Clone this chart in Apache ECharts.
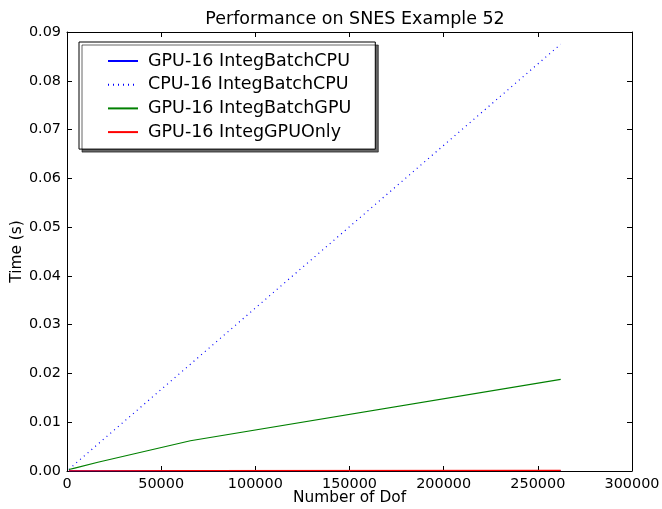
<!DOCTYPE html>
<html><head><meta charset="utf-8">
<script src="https://cdn.jsdelivr.net/npm/echarts@6/dist/echarts.min.js"></script>
<style>html,body{margin:0;padding:0;background:#fff}#c{width:662px;height:509px}</style>
</head><body><div id="c"></div>
<script>
const dof = [1024, 4096, 16384, 65536, 262144];
const gpuBatchCPU = [0.00001, 0.00002, 0.00003, 0.00005, 0.00010];
const cpuBatchCPU = [0.0003, 0.0014, 0.0055, 0.0219, 0.0875];
const gpuBatchGPU = [0.0003, 0.0006, 0.0018, 0.0062, 0.0188];
const gpuOnly = [0.00001, 0.00002, 0.00004, 0.00007, 0.00012];
const names = ['GPU-16 IntegBatchCPU','CPU-16 IntegBatchCPU','GPU-16 IntegBatchGPU','GPU-16 IntegGPUOnly'];
const pair = (xs, ys) => xs.map((x,i)=>[x, ys[i]]);
const font = 'DejaVu Sans';
const axisCommon = {
  axisLine:{show:true,onZero:false,lineStyle:{color:'#000',width:1}},
  axisTick:{show:true,inside:true,length:5,lineStyle:{color:'#000'}},
  splitLine:{show:false},
};
const chart = echarts.init(document.getElementById('c'));
chart.setOption({
  animation:false,
  textStyle:{fontFamily:font},
  title:{text:'Performance on SNES Example 52',left:350,top:5,textAlign:'center',
    textStyle:{fontFamily:font,fontSize:17.5,fontWeight:'normal',color:'#000'}},
  grid:{left:67,right:30,top:32,bottom:38,containLabel:false,outerBoundsMode:'none'},
  legend:{left:79,top:42,orient:'vertical',
    padding:[10,24,8,28],itemGap:5.7,itemWidth:30,itemHeight:14,
    borderColor:'#000',borderWidth:1,backgroundColor:'#fff',
    shadowColor:'rgba(0,0,0,0.6)',shadowOffsetX:3,shadowOffsetY:3,shadowBlur:0,
    itemStyle:{opacity:0},
    textStyle:{fontFamily:font,fontSize:17.5,lineHeight:17,color:'#000',padding:[0,0,0,5]},
    data:names},
  xAxis:[
    Object.assign({type:'value',min:0,max:300000,interval:50000,name:'Number of Dof',
      nameLocation:'middle',nameGap:19.5,nameMoveOverlap:false,nameTextStyle:{fontFamily:font,fontSize:15.4,color:'#000'},
      axisLabel:{fontFamily:font,fontSize:14.4,color:'#000',margin:6,formatter:v=>String(v)}},axisCommon),
    Object.assign({type:'value',min:0,max:300000,interval:50000,position:'top',
      axisLabel:{show:false}},axisCommon)
  ],
  yAxis:[
    Object.assign({type:'value',min:0,max:0.09,interval:0.01,name:'Time (s)',
      nameLocation:'middle',nameGap:43,nameMoveOverlap:false,nameTextStyle:{fontFamily:font,fontSize:15.4,color:'#000'},
      axisLabel:{fontFamily:font,fontSize:14.4,color:'#000',margin:6,formatter:v=>v.toFixed(2)}},axisCommon),
    Object.assign({type:'value',min:0,max:0.09,interval:0.01,position:'right',
      axisLabel:{show:false}},axisCommon)
  ],
  series:[
    {name:names[0],type:'line',symbol:'none',data:pair(dof,gpuBatchCPU),lineStyle:{color:'#0000ff',width:1.2},itemStyle:{color:'#0000ff'}},
    {name:names[1],type:'line',symbol:'none',data:pair(dof,cpuBatchCPU),lineStyle:{color:'#0000ff',width:1.2,type:[1,4]},itemStyle:{color:'#0000ff'}},
    {name:names[2],type:'line',symbol:'none',data:pair(dof,gpuBatchGPU),lineStyle:{color:'#008000',width:1.2},itemStyle:{color:'#008000'}},
    {name:names[3],type:'line',symbol:'none',data:pair(dof,gpuOnly),lineStyle:{color:'#ff0000',width:1.2},itemStyle:{color:'#ff0000'}}
  ]
});
</script></body></html>
